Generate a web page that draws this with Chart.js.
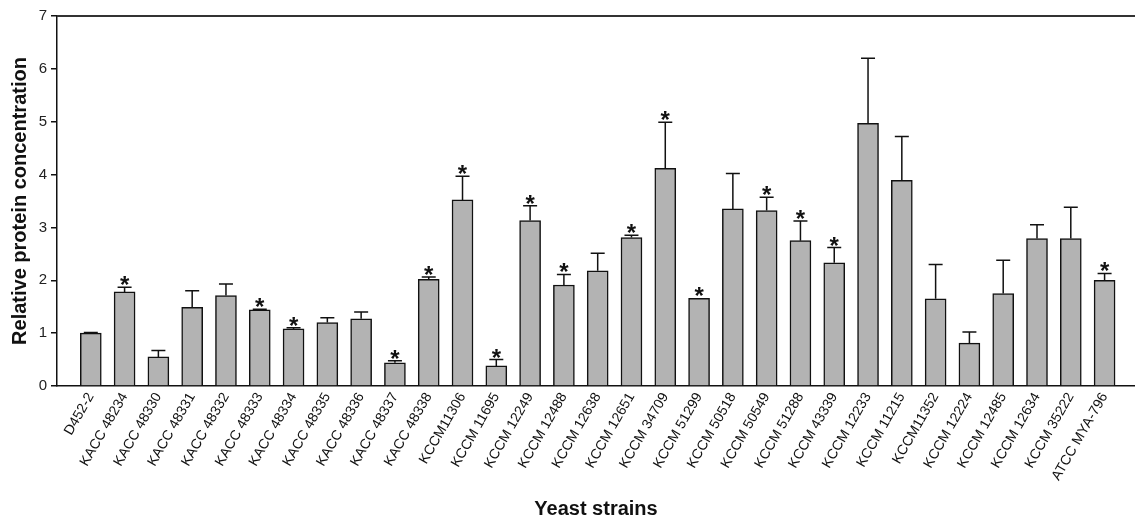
<!DOCTYPE html>
<html>
<head>
<meta charset="utf-8">
<script src="https://cdn.jsdelivr.net/npm/chart.js@4.4.1/dist/chart.umd.min.js"></script>
<style>
  html, body { margin: 0; padding: 0; background: #fff; }
  #wrap { width: 1135px; height: 521px; }
</style>
</head>
<body>
<div id="wrap"><canvas id="chart-bars"></canvas></div>
<script>
var strains = ["D452-2", "KACC 48234", "KACC 48330", "KACC 48331", "KACC 48332", "KACC 48333",
  "KACC 48334", "KACC 48335", "KACC 48336", "KACC 48337", "KACC 48338", "KCCM11306",
  "KCCM 11695", "KCCM 12249", "KCCM 12488", "KCCM 12638", "KCCM 12651", "KCCM 34709",
  "KCCM 51299", "KCCM 50518", "KCCM 50549", "KCCM 51288", "KCCM 43339", "KCCM 12233",
  "KCCM 11215", "KCCM11352", "KCCM 12224", "KCCM 12485", "KCCM 12634", "KCCM 35222",
  "ATCC MYA-796"];
var means = [1.00, 1.78, 0.55, 1.49, 1.71, 1.44, 1.08, 1.20, 1.27, 0.44, 2.02, 3.52,
  0.38, 3.13, 1.91, 2.18, 2.81, 4.12, 1.66, 3.35, 3.32, 2.75, 2.33, 4.97,
  3.89, 1.65, 0.81, 1.75, 2.79, 2.79, 2.00];
var sds = [0.01, 0.09, 0.12, 0.31, 0.22, 0.01, 0.02, 0.09, 0.13, 0.04, 0.04, 0.45,
  0.12, 0.28, 0.20, 0.33, 0.04, 0.87, 0.00, 0.67, 0.25, 0.37, 0.29, 1.23,
  0.83, 0.65, 0.21, 0.63, 0.26, 0.59, 0.13];
// 1 = marked with an asterisk
var marked = [0, 1, 0, 0, 0, 1, 1, 0, 0, 1, 1, 1, 1, 1, 1, 0, 1, 1, 1, 0, 1, 1, 1, 0,
  0, 0, 0, 0, 0, 0, 1];

var font = "'Liberation Sans', Arial, sans-serif";

// error bars (upper only), asterisks and the top frame line
var errorBars = {
  id: "errorBars",
  afterDatasetsDraw: function(chart) {
    var c = chart.ctx, xs = chart.scales.x, ys = chart.scales.y, area = chart.chartArea;
    c.save();
    c.strokeStyle = "#111";
    c.lineWidth = 1.5;
    for (var i = 0; i < means.length; i++) {
      var x = xs.getPixelForValue(i);
      var yBar = ys.getPixelForValue(means[i]);
      var yTop = ys.getPixelForValue(means[i] + sds[i]);
      if (sds[i] > 0) {
        c.beginPath();
        c.moveTo(x, yBar);
        c.lineTo(x, yTop);
        c.moveTo(x - 7, yTop);
        c.lineTo(x + 7, yTop);
        c.stroke();
      }
      if (marked[i]) {
        c.fillStyle = "#111";
        c.font = "bold 24px " + font;
        c.textAlign = "center";
        c.textBaseline = "alphabetic";
        c.fillText("*", x, yTop + 6);
      }
    }
    c.strokeStyle = "#333";
    c.lineWidth = 2;
    c.beginPath();
    c.moveTo(area.left, area.top);
    c.lineTo(area.right, area.top);
    c.stroke();
    c.restore();
  }
};

var ctx = document.getElementById("chart-bars").getContext("2d");
new Chart(ctx, {
  type: "bar",
  data: {
    datasets: [{
      label: "Relative protein concentration",
      data: means.map(function(v, i) { return {x: i, y: v}; }),
      backgroundColor: "#b3b3b3",
      borderColor: "#111",
      borderWidth: 1.5,
      barThickness: 21
    }]
  },
  options: {
    responsive: true,
    maintainAspectRatio: false,
    animation: false,
    layout: { padding: { top: 16, right: 0, left: 0, bottom: 0 } },
    plugins: {
      legend: { display: false },
      tooltip: { enabled: false }
    },
    scales: {
      x: {
        type: "linear",
        min: -1,
        max: 30.9,
        offset: false,
        grid: { display: false, drawTicks: false },
        border: { display: true, color: "#111", width: 1.5 },
        afterBuildTicks: function(scale) {
          scale.ticks = strains.map(function(s, i) { return {value: i}; });
        },
        afterFit: function(scale) { scale.height = 135; },
        ticks: {
          autoSkip: false,
          minRotation: 60,
          maxRotation: 60,
          padding: 4,
          color: "#111",
          font: { family: font, size: 14 },
          callback: function(v) { return strains[v]; }
        },
        title: {
          display: true,
          text: "Yeast strains",
          color: "#111",
          font: { family: font, size: 20, weight: "bold" },
          padding: { top: 0, bottom: 0 }
        }
      },
      y: {
        min: 0,
        max: 7,
        ticks: { stepSize: 1, padding: 4, color: "#222", font: { family: font, size: 15 } },
        grid: { drawOnChartArea: false, drawTicks: true, tickLength: 6, color: "#111", lineWidth: 1.5 },
        border: { color: "#111", width: 1.5 },
        afterFit: function(scale) { scale.width = 57; },
        title: {
          display: true,
          text: "Relative protein concentration",
          color: "#111",
          font: { family: font, size: 20, weight: "bold" },
          padding: { top: 8, bottom: 0 }
        }
      }
    }
  },
  plugins: [errorBars]
});
</script>
</body>
</html>
